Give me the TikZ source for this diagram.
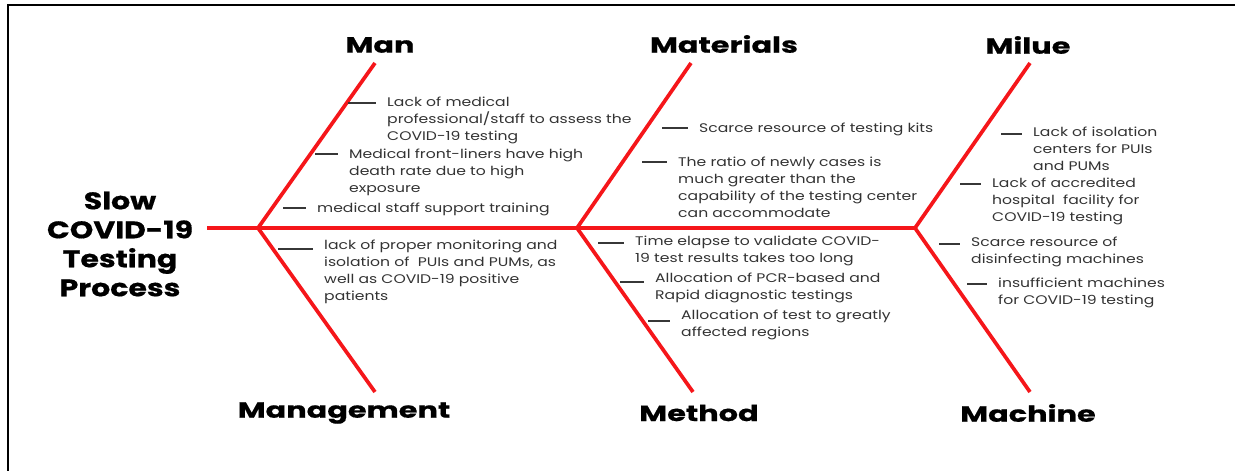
\documentclass[tikz,border=0pt]{standalone}
\usepackage{fontspec}
\setmainfont{Poppins}
\newfontfamily\bodyfont[FakeStretch=1.25]{Poppins}
\newfontfamily\headfont[FakeStretch=1.38,FakeBold=0.6]{Poppins}
\newfontfamily\titlefont[FakeStretch=1.25,FakeBold=0.6]{Poppins}
\usetikzlibrary{positioning,calc}
\definecolor{bonered}{RGB}{245,22,26}
\definecolor{tickgrey}{RGB}{55,55,55}
\tikzset{
  bone/.style={draw=bonered, line width=3.7pt},
  tick/.style={draw=tickgrey, line width=1.3pt},
  cat/.style={font=\headfont\fontsize{22}{26}\selectfont\bfseries, inner sep=0pt},
  cause/.style={align=left, anchor=north west, inner sep=0pt, yshift=-2pt, text=black!80,
                font=\bodyfont\fontsize{12.5}{17}\selectfont},
}

\begin{document}
\begin{tikzpicture}[x=1pt,y=-1pt]
    \useasboundingbox (0,0) rectangle (1235,471);
    % frame
    \draw[line width=2.5pt] (8,471) -- (8,5) -- (1235,5);

    % spine and joints
    \coordinate (tail) at (207,228);
    \coordinate (j1) at (258,228);
    \coordinate (j2) at (577,228);
    \coordinate (j3) at (915,228);
    \node[align=center, font=\titlefont\fontsize{24}{29}\selectfont\bfseries, inner sep=0pt](effect) at (120,244){Slow\\COVID-19\\Testing\\Process};

    % category heads
    \node[cat](man) at (380,45){Man};
    \node[cat](mat) at (724,44){Materials};
    \node[cat](mil) at (1028,45){Milue};
    \node[cat](mgt) at (344,413){Management};
    \node[cat](met) at (699,413){Method};
    \node[cat](mac) at (1028,413){Machine};

    \draw[bone](tail)--(j3);
    \draw[bone](j1)--(375,63);\draw[bone](j1)--(375,392);
    \draw[bone](j2)--(691,63);\draw[bone](j2)--(693,392);
    \draw[bone](j3)--(1030,63);\draw[bone](j3)--(1030,392);

    % Man
    \node[cause](c1) at (387,95){Lack of medical\\professional/staff to assess the\\COVID-19 testing};
    \node[cause](c2) at (349,147){Medical front-liners have high\\death rate due to high\\exposure};
    \node[cause](c3) at (317,201){medical staff support training};
    % Management
    \node[cause](c4) at (324,238){lack of proper monitoring and\\isolation of~ PUIs and PUMs, as\\well as COVID-19 positive\\patients};
    % Materials
    \node[cause](c5) at (699,121){Scarce resource of testing kits};
    \node[cause](c6) at (678,155){The ratio of newly cases is\\much greater than the\\capability of the testing center\\can accommodate};
    % Method
    \node[cause](c7) at (635,234){Time elapse to validate COVID-\\19 test results takes too long};
    \node[cause](c8) at (655,271){Allocation of PCR-based and\\Rapid diagnostic testings};
    \node[cause](c9) at (681,308){Allocation of test to greatly\\affected regions};
    % Milue
    \node[cause](c10) at (1033,125){Lack of isolation\\centers for PUIs\\and PUMs};
    \node[cause](c11) at (992,176){Lack of accredited\\hospital~ facility for\\COVID-19 testing};
    % Machine
    \node[cause](c12) at (971,235){Scarce resource of\\disinfecting machines};
    \node[cause](c13) at (998,276){insufficient machines\\for COVID-19 testing};

    % ticks in front of each cause
    \coordinate (d1) at (348,103);\coordinate (d2) at (315,154);\coordinate (d3) at (283,208);
    \coordinate (d4) at (278,249);\coordinate (d5) at (662,128);\coordinate (d6) at (642,162);
    \coordinate (d7) at (598,243);\coordinate (d8) at (620,282);\coordinate (d9) at (648,321);
    \coordinate (d10) at (1001,134);\coordinate (d11) at (960,184);\coordinate (d12) at (939,244);
    \coordinate (d13) at (967,284);
    \foreach \i in {1,...,13}
        \draw[tick](d\i)--([xshift=-11pt]d\i -| c\i.west);
\end{tikzpicture}
\end{document}
